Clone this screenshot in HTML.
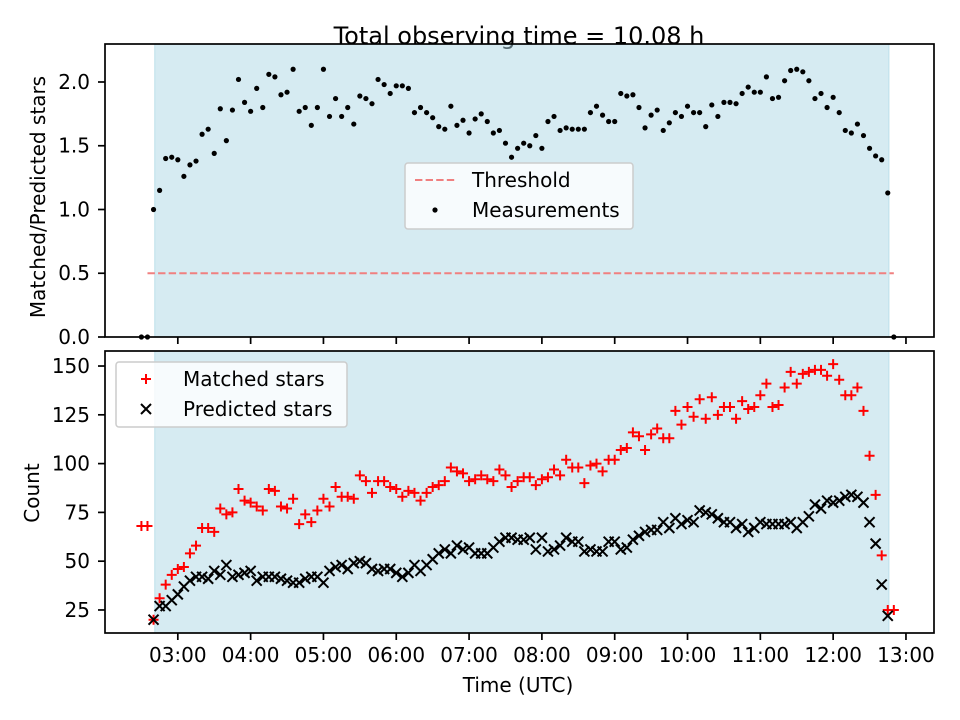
<!DOCTYPE html>
<html><head><meta charset="utf-8"><style>
body{margin:0;background:#fff}
svg{display:block;font-family:"DejaVu Sans","Liberation Sans",sans-serif}
</style></head><body>
<svg id="chart" width="960" height="720" viewBox="0 0 960 720">
<rect width="960" height="720" fill="#fff"/>
<text x="519" y="44" font-size="24" text-anchor="middle">Total observing time = 10.08 h</text>
<g id="topPanel"></g>
<g id="botPanel"></g>
<text x="518" y="692" font-size="20" text-anchor="middle">Time (UTC)</text>
<text transform="translate(45,197) rotate(-90)" font-size="20" text-anchor="middle">Matched/Predicted stars</text>
<text transform="translate(39,493) rotate(-90)" font-size="20" text-anchor="middle">Count</text>
</svg>
<script>
const times = ["02:30","02:35","02:40","02:45","02:50","02:55",
"03:00","03:05","03:10","03:15","03:20","03:25","03:30","03:35","03:40","03:45","03:50","03:55",
"04:00","04:05","04:10","04:15","04:20","04:25","04:30","04:35","04:40","04:45","04:50","04:55",
"05:00","05:05","05:10","05:15","05:20","05:25","05:30","05:35","05:40","05:45","05:50","05:55",
"06:00","06:05","06:10","06:15","06:20","06:25","06:30","06:35","06:40","06:45","06:50","06:55",
"07:00","07:05","07:10","07:15","07:20","07:25","07:30","07:35","07:40","07:45","07:50","07:55",
"08:00","08:05","08:10","08:15","08:20","08:25","08:30","08:35","08:40","08:45","08:50","08:55",
"09:00","09:05","09:10","09:15","09:20","09:25","09:30","09:35","09:40","09:45","09:50","09:55",
"10:00","10:05","10:10","10:15","10:20","10:25","10:30","10:35","10:40","10:45","10:50","10:55",
"11:00","11:05","11:10","11:15","11:20","11:25","11:30","11:35","11:40","11:45","11:50","11:55",
"12:00","12:05","12:10","12:15","12:20","12:25","12:30","12:35","12:40","12:45","12:50"];
const ratio = [0,0,1.0,1.15,1.40,1.41,1.39,1.26,1.35,1.38,1.59,1.63,1.44,1.79,1.54,1.78,2.02,1.84,1.77,1.95,1.80,2.06,2.04,1.90,1.92,2.10,1.77,1.80,1.66,1.80,2.10,1.73,1.87,1.73,1.80,1.67,1.89,1.87,1.83,2.02,1.98,1.91,1.97,1.97,1.95,1.76,1.80,1.76,1.72,1.65,1.63,1.81,1.66,1.70,1.60,1.71,1.75,1.69,1.60,1.62,1.52,1.41,1.48,1.52,1.50,1.58,1.48,1.69,1.73,1.62,1.64,1.63,1.63,1.63,1.76,1.81,1.74,1.69,1.69,1.91,1.89,1.90,1.80,1.64,1.74,1.78,1.62,1.68,1.76,1.73,1.81,1.76,1.76,1.65,1.82,1.73,1.84,1.84,1.83,1.91,1.96,1.92,1.92,2.04,1.87,1.88,2.01,2.09,2.10,2.08,2.01,1.87,1.91,1.80,1.88,1.76,1.62,1.60,1.67,1.58,1.48,1.42,1.39,1.13,0];
const matched = [68,68,20,31,38,43,46,47,54,58,67,67,65,77,74,75,87,81,80,78,76,87,86,78,77,82,69,74,70,76,82,78,88,83,83,82,94,91,85,91,91,88,87,83,86,85,81,85,88,89,91,98,96,95,91,92,94,92,91,97,94,88,91,93,93,89,92,93,97,94,102,98,98,90,99,100,96,102,102,107,108,116,114,107,115,118,113,113,127,120,129,124,133,123,134,125,129,129,123,132,128,129,135,141,129,130,139,147,141,146,147,148,148,145,151,143,135,135,139,127,104,84,53,25,25];
const predicted = [0,0,20,27,27,30,33,37,40,42,42,41,45,43,48,42,43,44,45,40,42,42,42,41,40,39,39,41,42,42,39,45,47,48,46,49,50,49,46,45,46,46,44,42,44,48,45,48,51,54,56,54,58,56,57,54,54,54,57,60,62,62,61,61,62,56,62,55,56,58,62,60,60,55,56,55,55,60,60,56,57,61,63,65,66,66,70,67,72,69,71,70,76,75,74,72,70,70,67,69,65,67,70,69,69,69,69,70,67,70,73,79,77,81,80,81,83,84,83,80,70,59,38,22,0];
const xTicks = ["03:00","04:00","05:00","06:00","07:00","08:00","09:00","10:00","11:00","12:00","13:00"];
const topYTicks = [0.0,0.5,1.0,1.5,2.0];
const botYTicks = [25,50,75,100,125,150];
const threshold = 0.5;
const observeSpan = ["02:41","12:46"];
const thresholdSpan = ["02:35","12:50"];

const NS="http://www.w3.org/2000/svg";
const L=105,R=934;
const T1=44,B1=337,T2=351,B2=633;
const XMIN=2.0,XMAX=13.385;
function hrs(t){const p=t.split(":");return +p[0]+(+p[1])/60;}
function xs(t){return L+(hrs(t)-XMIN)/(XMAX-XMIN)*(R-L);}
function y1(v){return B1-(v-0)/(2.298-0)*(B1-T1);}
function y2(v){return B2-(v-13.2)/(157.7-13.2)*(B2-T2);}
function mk(tag,attrs,parent){const e=document.createElementNS(NS,tag);for(const k in attrs)e.setAttribute(k,attrs[k]);parent.appendChild(e);return e;}
const topG=document.getElementById('topPanel'), botG=document.getElementById('botPanel');

function panel(g,T,B,yfun,yticks,fmt,showXLabels,clipId){
  const defs=mk('defs',{},g);
  const cp=mk('clipPath',{id:clipId},defs);
  mk('rect',{x:L,y:T,width:R-L,height:B-T},cp);
  const sh=mk('rect',{x:xs(observeSpan[0]),y:T,width:xs(observeSpan[1])-xs(observeSpan[0]),height:B-T,fill:'#add8e6','fill-opacity':0.5,stroke:'#add8e6','stroke-opacity':0.7},g);
  
  
  yticks.forEach(v=>{
    const y=yfun(v);
    const tk=mk('line',{x1:L-7,x2:L,y1:y,y2:y,stroke:'#000','stroke-width':1.7},g);
    
    
    const tl=mk('text',{x:L-15,y:y+7,'font-size':20,'text-anchor':'end'},g);
    tl.textContent=fmt(v);
    
    
  });
  xTicks.forEach(t=>{
    const x=xs(t);
    const tk=mk('line',{x1:x,x2:x,y1:B,y2:B+7,stroke:'#000','stroke-width':1.7},g);
    
    
    if(showXLabels){
      const tl=mk('text',{x:x,y:B+29,'font-size':20,'text-anchor':'middle'},g);
      tl.textContent=t;
      
      
    }
  });
  const c=mk('g',{'clip-path':'url(#'+clipId+')'},g);
  return c;
}
const c1=panel(topG,T1,B1,y1,topYTicks,v=>v.toFixed(1),false,'cp1');
const c2=panel(botG,T2,B2,y2,botYTicks,v=>String(v),true,'cp2');

const th=mk('line',{x1:xs(thresholdSpan[0]),x2:xs(thresholdSpan[1]),y1:y1(threshold),y2:y1(threshold),stroke:'#f08080','stroke-width':2,'stroke-dasharray':'7.4,3.2'},c1);


ratio.forEach((v,i)=>{
  const d=mk('circle',{cx:xs(times[i]),cy:y1(v),r:2.6,fill:'#000'},topG);
  
  
});
function plus(g,x,y,s,color){
  return mk('path',{d:`M${x-s},${y}H${x+s}M${x},${y-s}V${y+s}`,stroke:color,'stroke-width':2,fill:'none'},g);
}
function cross(g,x,y,s,color){
  return mk('path',{d:`M${x-s},${y-s}L${x+s},${y+s}M${x-s},${y+s}L${x+s},${y-s}`,stroke:color,'stroke-width':2,fill:'none'},g);
}
matched.forEach((v,i)=>{
  const p=plus(c2,xs(times[i]),y2(v),5,'#ff0000');
  
  
});
predicted.forEach((v,i)=>{
  const p=cross(c2,xs(times[i]),y2(v),5,'#000');
  
  
});
[[T1,B1,topG],[T2,B2,botG]].forEach(([T,B,g])=>{
  const f=mk('rect',{x:L,y:T,width:R-L,height:B-T,fill:'none',stroke:'#000','stroke-width':1.7},g);
  
  
});
function legend(g,x,y,w,h,items){
  const lg=mk('g',{},g);
  
  
  mk('rect',{x:x,y:y,width:w,height:h,rx:3,fill:'#fff','fill-opacity':0.8,stroke:'#cccccc','stroke-width':1.5},lg);
  items.forEach((it,k)=>{
    const yy=y+17+k*30;
    const e=mk('g',{},lg);
    
    
    it.draw(e,x+26,yy);
    const t=mk('text',{x:x+67,y:yy+7,'font-size':20},e);
    t.textContent=it.label;
  });
}
legend(topG,405,163,228,66,[
  {label:'Threshold',draw:(e,x,y)=>mk('line',{x1:x-16,x2:x+24,y1:y,y2:y,stroke:'#f08080','stroke-width':2,'stroke-dasharray':'7.4,3.2'},e)},
  {label:'Measurements',draw:(e,x,y)=>mk('circle',{cx:x+4,cy:y,r:2.6,fill:'#000'},e)}
]);
legend(botG,116,362,231,65,[
  {label:'Matched stars',draw:(e,x,y)=>plus(e,x+4,y,5,'#ff0000')},
  {label:'Predicted stars',draw:(e,x,y)=>cross(e,x+4,y,5,'#000')}
]);
</script>
</body></html>
